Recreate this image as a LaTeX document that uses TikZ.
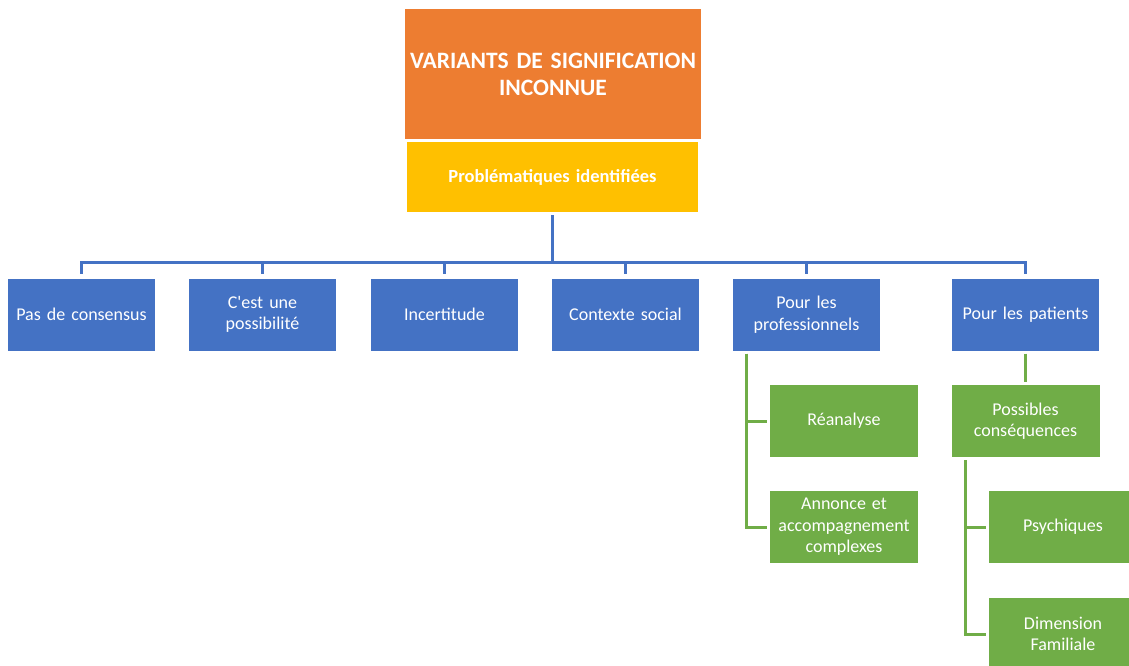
\documentclass[tikz,border=0pt]{standalone}
\usepackage{fontspec}
\setmainfont{Carlito}
\usepackage{tikz}
\usetikzlibrary{arrows.meta}

\definecolor{orangebox}{HTML}{ED7D31}
\definecolor{yellowbox}{HTML}{FFC000}
\definecolor{bluebox}{HTML}{4472C4}
\definecolor{greenbox}{HTML}{70AD47}

\tikzset{
	boite/.style={fill=#1, text=white, inner sep=0pt, align=center,
		minimum width=147pt, minimum height=72pt, text width=144pt,
		font=\fontsize{18}{21.5}\selectfont},
	bleu/.style={boite=bluebox},
	vert/.style={boite=greenbox, minimum width=148pt},
	bline/.style={draw=bluebox, line width=3pt},
	gline/.style={draw=greenbox, line width=3pt, shorten <=3pt, shorten >=3pt}
}

\begin{document}
\begin{tikzpicture}[x=1pt, y=-1pt, >=Stealth]
			\useasboundingbox (0,0) rectangle (1129,666);
			
			% titre et problematiques
			\node[boite=orangebox, minimum width=296pt, minimum height=130pt, text width=296pt,
				font=\fontsize{23.5}{27}\selectfont\bfseries] (titre) at (553,74)
				{VARIANTS DE SIGNIFICATION\\INCONNUE};
			\node[boite=yellowbox, minimum width=291pt, minimum height=70pt, text width=291pt,
				font=\fontsize{18.5}{22}\selectfont\bfseries] (prob) at (552.5,177)
				{Probl\'ematiques identifi\'ees};
			
			% niveau bleu
			\node[bleu] (consensus) at (81.5,314.5) {Pas de consensus};
			\node[bleu] (possib) at (262.5,314.5) {C\textquotesingle est une\\possibilit\'e};
			\node[bleu] (incert) at (444.5,314.5) {Incertitude};
			\node[bleu] (contexte) at (625.5,314.5) {Contexte social};
			\node[bleu] (pro) at (806.5,314.5) {Pour les\\professionnels};
			\node[bleu] (pat) at (1025.5,314.5) {Pour les patients};
			
			% niveau vert
			\node[vert] (rea) at (844,421) {R\'eanalyse};
			\node[vert] (ann) at (844,527) {Annonce et\\accompagnement\\complexes};
			\node[vert] (cons) at (1025.5,421) {Possibles\\cons\'equences};
			\node[vert] (psy) at (1063,527) {Psychiques};
			\node[vert] (dim) at (1063,634) {Dimension\\Familiale};
			
			% connecteurs
			\coordinate (bus) at (552.5,262);
			\draw[bline, shorten <=3pt] (prob.south) -- (bus);
			\foreach \n in {consensus,possib,incert,contexte,pro,pat}
				\draw[bline, shorten >=4pt] (bus) -| (\n.north);
			
			\draw[gline] ([xshift=14pt]pro.south west) |- (rea.west);
			\draw[gline] ([xshift=14pt]pro.south west) |- (ann.west);
			\draw[gline] (pat.south) -- (cons.north);
			\draw[gline] ([xshift=14pt]cons.south west) |- (psy.west);
			\draw[gline] ([xshift=14pt]cons.south west) |- (dim.west);
		\end{tikzpicture}
\end{document}
